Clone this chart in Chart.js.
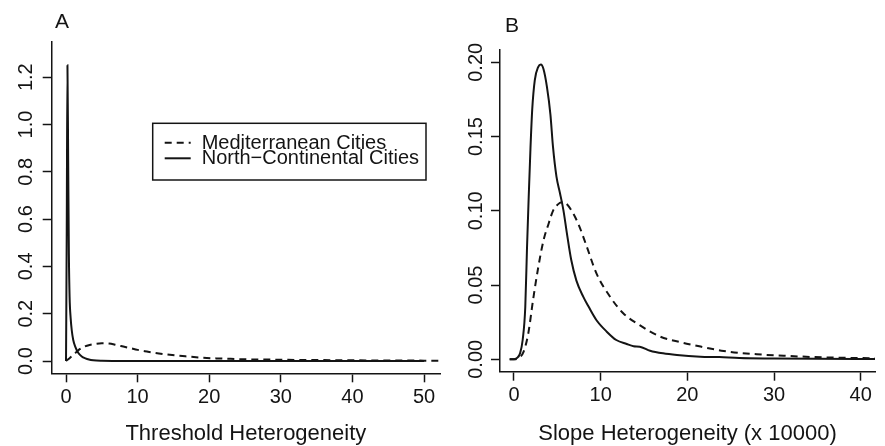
<!DOCTYPE html>
<html lang="en">
<head>
<meta charset="utf-8" />
<title>Threshold and slope heterogeneity</title>
<style>
  html, body { margin: 0; padding: 0; background: #fff; }
  #wrap { position: relative; width: 885px; height: 446px; overflow: hidden; background: #fff; }
  canvas { position: absolute; top: 0; }
  #panelA { left: 0; }
  #panelB { left: 445px; }
</style>
</head>
<body>
<div id="wrap">
  <canvas id="panelA" width="445" height="446"></canvas>
  <canvas id="panelB" width="440" height="446"></canvas>
</div>

<script src="https://cdn.jsdelivr.net/npm/chart.js"></script>
<script>
// ---- data ----
const seriesNames = ['Mediterranean Cities', 'North\u2212Continental Cities'];

// panel A : threshold heterogeneity
const aMedX = [0, 0.5, 1, 1.7, 2.5, 3.3, 4.2, 5, 6, 7, 8, 9, 10, 11.3, 12.5, 14, 15.5, 17, 19, 21, 23, 25, 28, 31, 35, 40, 45, 50, 52.3];
const aMedY = [0, 0.012, 0.025, 0.045, 0.060, 0.068, 0.073, 0.075, 0.074, 0.068, 0.061, 0.054, 0.047, 0.040, 0.034, 0.028, 0.023, 0.019, 0.014, 0.011, 0.009, 0.007, 0.006, 0.005, 0.004, 0.003, 0.002, 0.0015, 0.001];
const aNorX = [0, 0.1, 0.2, 0.3, 0.4, 0.5, 0.65, 0.8, 1.0, 1.3, 1.7, 2.2, 2.7, 3.2, 3.8, 5, 7, 10, 20, 30, 40, 50];
const aNorY = [0, 0.55, 1.25, 0.85, 0.45, 0.27, 0.18, 0.13, 0.09, 0.06, 0.035, 0.019, 0.011, 0.006, 0.003, 0.001, 0.0003, 0, 0, 0, 0, 0];
const aXTicks = [0, 10, 20, 30, 40, 50];
const aYTicks = [0, 0.2, 0.4, 0.6, 0.8, 1.0, 1.2];

// panel B : slope heterogeneity (x 10000)
const bMedX = [-0.5, 0, 0.5, 1.1, 1.65, 2.2, 2.8, 3.4, 4.0, 4.5, 5.0, 5.5, 5.9, 6.6, 7.4, 8.4, 9.5, 11.1, 12.6, 14.5, 16.9, 19.2, 20.7, 24.2, 28, 31.8, 35.7, 41.7];
const bMedY = [0, 0, 0.0007, 0.005, 0.0175, 0.040, 0.062, 0.080, 0.0915, 0.100, 0.104, 0.1058, 0.1054, 0.1005, 0.0915, 0.0758, 0.058, 0.042, 0.031, 0.023, 0.0152, 0.0115, 0.0096, 0.0056, 0.0034, 0.0022, 0.0013, 0.0007];
const bNorX = [-0.5, 0, 0.3, 0.7, 1.0, 1.3, 1.5, 1.7, 1.9, 2.1, 2.4, 2.8, 3.1, 3.4, 3.8, 4.2, 4.5, 4.9, 5.3, 5.7, 6.1, 6.6, 7.2, 8.0, 8.6, 9.5, 10.7, 11.8, 13.0, 13.8, 14.5, 15.7, 17.2, 18.8, 21.5, 23.7, 26, 30, 35, 41.7];
const bNorY = [0, 0, 0.0007, 0.004, 0.013, 0.035, 0.075, 0.11, 0.142, 0.168, 0.188, 0.197, 0.1985, 0.1955, 0.1835, 0.165, 0.143, 0.123, 0.112, 0.1005, 0.085, 0.067, 0.053, 0.042, 0.0355, 0.0265, 0.0186, 0.013, 0.0103, 0.0088, 0.0085, 0.0058, 0.004, 0.0029, 0.0018, 0.0015, 0.0008, 0.0005, 0.0003, 0.0002];
const bXTicks = [0, 10, 20, 30, 40];
const bYTicks = [0, 0.05, 0.10, 0.15, 0.20];

const INK = '#141414';
const FONT = '"Liberation Sans", Arial, Helvetica, sans-serif';
const DASH = [7, 5];

function pts(xs, ys) {
  return xs.map((x, i) => ({ x: x, y: ys[i] }));
}

// y tick labels in R style (rotated, reading upwards) + panel letter
const rLabels = {
  id: 'rLabels',
  afterDraw(chart, args, opts) {
    const ctx = chart.ctx;
    const y = chart.scales.y;
    ctx.save();
    ctx.fillStyle = INK;
    ctx.font = '20px ' + FONT;
    ctx.textAlign = 'center';
    ctx.textBaseline = 'alphabetic';
    y.ticks.forEach(t => {
      const py = y.getPixelForValue(t.value);
      ctx.save();
      ctx.translate(opts.labelX, py);
      ctx.rotate(-Math.PI / 2);
      ctx.fillText(t.value.toFixed(opts.decimals), 0, 0);
      ctx.restore();
    });
    ctx.textAlign = 'left';
    ctx.font = '21px ' + FONT;
    ctx.fillText(opts.letter, opts.letterX, opts.letterY);
    ctx.restore();
  }
};

// boxed legend like R's legend()
const boxLegend = {
  id: 'boxLegend',
  afterDraw(chart, args, opts) {
    if (!opts.show) return;
    const ctx = chart.ctx;
    ctx.save();
    ctx.strokeStyle = INK;
    ctx.lineWidth = 1.5;
    ctx.strokeRect(opts.x, opts.y, opts.w, opts.h);
    ctx.font = '20px ' + FONT;
    ctx.fillStyle = INK;
    ctx.textAlign = 'left';
    ctx.textBaseline = 'alphabetic';
    chart.data.datasets.forEach((ds, i) => {
      const lineY = opts.y + opts.firstLine + i * opts.rowGap;
      ctx.setLineDash(ds.borderDash || []);
      ctx.lineWidth = ds.borderWidth;
      ctx.beginPath();
      ctx.moveTo(opts.x + 12, lineY);
      ctx.lineTo(opts.x + 38, lineY);
      ctx.stroke();
      ctx.setLineDash([]);
      ctx.fillText(ds.label, opts.x + 49, lineY + 5.8);
    });
    ctx.restore();
  }
};

function makePanel(id, cfg) {
  const ctx = document.getElementById(id).getContext('2d');
  return new Chart(ctx, {
    type: 'line',
    data: {
      datasets: [{
        label: seriesNames[0],
        data: pts(cfg.medX, cfg.medY),
        borderColor: INK,
        borderWidth: 2,
        borderDash: DASH,
        pointRadius: 0,
        cubicInterpolationMode: 'monotone',
        fill: false
      }, {
        label: seriesNames[1],
        data: pts(cfg.norX, cfg.norY),
        borderColor: INK,
        borderWidth: 2,
        pointRadius: 0,
        cubicInterpolationMode: 'monotone',
        fill: false
      }]
    },
    options: {
      responsive: false,
      animation: false,
      devicePixelRatio: 1,
      layout: { padding: cfg.padding },
      plugins: {
        legend: { display: false },
        tooltip: { enabled: false },
        rLabels: cfg.labels,
        boxLegend: cfg.legend
      },
      scales: {
        x: {
          type: 'linear',
          min: cfg.xMin,
          max: cfg.xMax,
          afterBuildTicks: s => { s.ticks = cfg.xTicks.map(v => ({ value: v })); },
          afterFit: s => { s.height = cfg.xAxisH; },
          grid: { drawOnChartArea: false, drawTicks: true, tickLength: 9, tickColor: INK, tickWidth: 1.5 },
          border: { display: true, color: INK, width: 1.5 },
          ticks: { color: INK, font: { family: FONT, size: 20 }, padding: 3, maxRotation: 0, autoSkip: false },
          title: {
            display: true,
            text: cfg.xTitle,
            color: INK,
            font: { family: FONT, size: 22, lineHeight: 1 },
            padding: { top: 0, bottom: 1.5 }
          }
        },
        y: {
          type: 'linear',
          min: cfg.yMin,
          max: cfg.yMax,
          afterBuildTicks: s => { s.ticks = cfg.yTicks.map(v => ({ value: v })); },
          afterFit: s => { s.width = cfg.yAxisW; },
          grid: { drawOnChartArea: false, drawTicks: true, tickLength: 9, tickColor: INK, tickWidth: 1.5 },
          border: { display: true, color: INK, width: 1.5 },
          ticks: { display: false }
        }
      }
    },
    plugins: [rLabels, boxLegend]
  });
}

makePanel('panelA', {
  medX: aMedX, medY: aMedY, norX: aNorX, norY: aNorY,
  xTicks: aXTicks, yTicks: aYTicks,
  xMin: -2.0, xMax: 52.23, yMin: -0.052, yMax: 1.35,
  xTitle: 'Threshold Heterogeneity',
  padding: { top: 41.7, right: 5, left: 0, bottom: 0 },
  yAxisW: 51.7, xAxisH: 72.7,
  labels: { labelX: 31.5, decimals: 1, letter: 'A', letterX: 55, letterY: 28.3 },
  legend: { show: true, x: 152.7, y: 123.3, w: 273.3, h: 56.7, firstLine: 19.4, rowGap: 15.6 }
});

makePanel('panelB', {
  medX: bMedX, medY: bMedY, norX: bNorX, norY: bNorY,
  xTicks: bXTicks, yTicks: bYTicks,
  xMin: -1.615, xMax: 41.65, yMin: -0.00835, yMax: 0.2083,
  xTitle: 'Slope Heterogeneity (x 10000)',
  padding: { top: 50, right: 10, left: 0, bottom: 0 },
  yAxisW: 55, xAxisH: 74.3,
  labels: { labelX: 36.5, decimals: 2, letter: 'B', letterX: 60, letterY: 31.7 },
  legend: { show: false }
});
</script>
</body>
</html>
